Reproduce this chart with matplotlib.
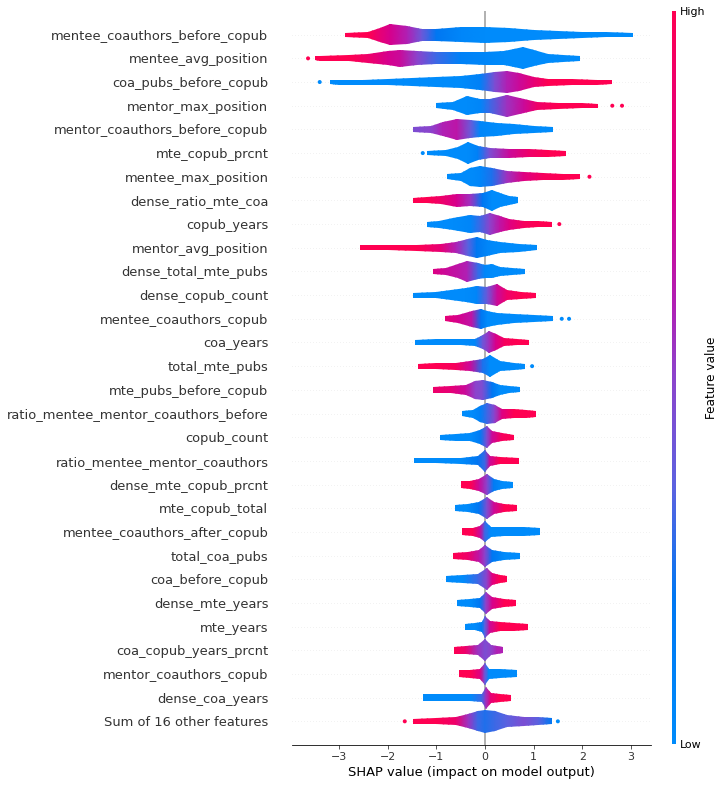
import matplotlib
matplotlib.use("Agg")
import matplotlib.pyplot as plt
import numpy as np
from matplotlib.colors import LinearSegmentedColormap
from matplotlib.patches import Polygon
import matplotlib as mpl

# feature names, top to bottom
features = [
    "mentee_coauthors_before_copub", "mentee_avg_position", "coa_pubs_before_copub",
    "mentor_max_position", "mentor_coauthors_before_copub", "mte_copub_prcnt",
    "mentee_max_position", "dense_ratio_mte_coa", "copub_years", "mentor_avg_position",
    "dense_total_mte_pubs", "dense_copub_count", "mentee_coauthors_copub", "coa_years",
    "total_mte_pubs", "mte_pubs_before_copub", "ratio_mentee_mentor_coauthors_before",
    "copub_count", "ratio_mentee_mentor_coauthors", "dense_mte_copub_prcnt",
    "mte_copub_total", "mentee_coauthors_after_copub", "total_coa_pubs",
    "coa_before_copub", "dense_mte_years", "mte_years", "coa_copub_years_prcnt",
    "mentor_coauthors_copub", "dense_coa_years", "Sum of 16 other features",
]

# per feature: SHAP knots, swarm thickness (px-ish, half height), mean feature value (0 low .. 1 high)
shap_x = [
    [-2.88, -2.4, -2.15, -1.95, -1.6, -1.3, -1.0, -0.5, 0.0, 0.5, 1.0, 1.5, 2.0, 2.5, 3.05],
    [-3.5, -3.4, -2.8, -2.4, -2.0, -1.75, -1.4, -1.0, -0.5, 0.0, 0.4, 0.6, 0.78, 1.0, 1.3, 1.6, 1.95],
    [-3.19, -3.0, -2.5, -2.0, -1.5, -1.0, -0.5, -0.1, 0.2, 0.45, 0.7, 1.0, 1.3, 1.8, 2.3, 2.62],
    [-1.0, -0.65, -0.37, -0.1, 0.1, 0.45, 0.8, 1.07, 1.5, 2.0, 2.33],
    [-1.48, -1.1, -0.87, -0.58, -0.3, -0.1, 0.25, 0.6, 1.0, 1.4],
    [-1.2, -0.8, -0.55, -0.35, -0.15, 0.1, 0.5, 0.9, 1.3, 1.67],
    [-0.79, -0.5, -0.3, -0.1, 0.15, 0.45, 0.8, 1.2, 1.6, 1.95],
    [-1.48, -1.2, -0.9, -0.58, -0.3, -0.05, 0.14, 0.3, 0.5, 0.68],
    [-1.2, -0.95, -0.65, -0.3, -0.1, 0.1, 0.3, 0.5, 0.8, 1.1, 1.37],
    [-2.57, -2.0, -1.4, -0.9, -0.6, -0.35, -0.17, 0.05, 0.3, 0.7, 1.07],
    [-1.07, -0.8, -0.55, -0.37, -0.15, 0.0, 0.14, 0.3, 0.55, 0.82],
    [-1.48, -1.0, -0.7, -0.4, -0.17, 0.05, 0.25, 0.45, 0.75, 1.05],
    [-0.82, -0.55, -0.27, -0.08, 0.05, 0.25, 0.6, 1.0, 1.4],
    [-1.44, -1.0, -0.5, -0.2, -0.05, 0.08, 0.22, 0.4, 0.65, 0.9],
    [-1.38, -1.0, -0.6, -0.3, -0.05, 0.1, 0.3, 0.6, 0.82],
    [-1.07, -0.7, -0.4, -0.2, -0.05, 0.15, 0.3, 0.5, 0.72],
    [-0.47, -0.25, -0.1, 0.04, 0.2, 0.35, 0.6, 0.85, 1.05],
    [-0.93, -0.6, -0.3, -0.1, 0.04, 0.15, 0.35, 0.6],
    [-1.46, -1.0, -0.5, -0.15, 0.0, 0.1, 0.3, 0.7],
    [-0.5, -0.3, -0.12, 0.04, 0.18, 0.35, 0.58],
    [-0.62, -0.35, -0.12, 0.04, 0.18, 0.4, 0.66],
    [-0.47, -0.25, -0.1, 0.0, 0.12, 0.4, 0.8, 1.13],
    [-0.65, -0.35, -0.12, 0.0, 0.15, 0.4, 0.72],
    [-0.8, -0.45, -0.15, 0.04, 0.15, 0.3, 0.45],
    [-0.58, -0.3, -0.1, 0.02, 0.15, 0.4, 0.64],
    [-0.41, -0.2, -0.07, 0.0, 0.1, 0.3, 0.6, 0.88],
    [-0.64, -0.4, -0.15, 0.0, 0.12, 0.25, 0.37],
    [-0.53, -0.3, -0.1, 0.0, 0.08, 0.3, 0.66],
    [-1.28, -0.8, -0.3, -0.07, 0.02, 0.12, 0.3, 0.53],
    [-1.48, -1.0, -0.6, -0.35, -0.15, 0.0, 0.2, 0.45, 0.8, 1.1, 1.37],
]
thickness = [
    [2, 3, 7, 10.5, 9, 6, 6, 7.5, 8, 7, 5, 4, 3, 2.5, 2],
    [2, 2.5, 3, 4.5, 7, 8.3, 7, 6, 6, 6.5, 7, 9, 11, 8, 4.5, 3.5, 2.5],
    [2, 2.5, 2.5, 3, 4, 5, 6, 8, 10, 10.7, 9, 5, 3.5, 3, 2.5, 2],
    [2.5, 4, 9.7, 7, 7, 11, 7, 4, 3, 2.5, 2],
    [2.5, 3.5, 7, 10.5, 9, 8, 6.5, 5, 3.5, 2.5],
    [2, 3, 6, 11, 7, 5, 4.5, 4, 3.5, 2.5],
    [2.5, 4, 9, 10.5, 9, 6, 4.5, 3.5, 3, 2.5],
    [2.5, 3, 4, 6.7, 6, 7, 10.7, 7, 4.5, 3],
    [2.5, 3.5, 6, 9, 8, 10.7, 8, 5.5, 3.5, 3, 2.5],
    [2.5, 2.5, 3, 4, 5.5, 8.5, 10.5, 8, 5.5, 4, 2.5],
    [2.5, 3.5, 7, 10.8, 8, 6.5, 7, 4.5, 3.5, 2.5],
    [2.5, 3, 5, 7, 9, 8.5, 11, 5, 3.5, 2.5],
    [2.5, 4, 8, 10, 8, 6, 4.5, 3.5, 2.5],
    [2.5, 3, 3, 3.5, 7, 11, 8, 4, 3, 2.5],
    [2.5, 3, 3.5, 5, 7, 11, 5, 3.5, 2.5],
    [3, 3.5, 5, 9, 10.3, 8, 5, 3.5, 2.5],
    [2.5, 4, 8, 10.8, 9, 5, 4.5, 4, 3],
    [2.5, 3.5, 4, 7, 11, 6, 4, 2.5],
    [2.5, 2.5, 3, 4.5, 10.8, 5, 3.5, 3],
    [3.5, 4, 6, 10.8, 6, 4, 3],
    [3, 4, 6, 10.8, 6, 4, 3],
    [3.5, 4, 6, 10.5, 5, 4.5, 4.5, 3.5],
    [3, 4, 6, 11, 6, 4, 3],
    [3, 4, 5, 10.8, 6, 4, 3],
    [3, 4, 5, 10.8, 6, 4, 3],
    [3, 3.5, 5, 11, 6, 4.5, 4, 3],
    [3.5, 4, 5, 11, 5, 4, 3],
    [3.5, 4, 5, 10.7, 5, 4.5, 3.5],
    [3.5, 3.5, 3.5, 4, 11, 5, 4, 3],
    [2.5, 3, 4, 7, 10, 11.7, 10, 6, 4.5, 4, 3],
]
feat_val = [
    [1, 1, 0.85, 0.75, 0.6, 0.4, 0.2, 0.05, 0, 0, 0, 0, 0, 0, 0],
    [1, 1, 1, 0.9, 0.75, 0.7, 0.5, 0.3, 0.1, 0.05, 0, 0, 0, 0, 0, 0, 0],
    [0, 0, 0, 0, 0, 0, 0, 0.1, 0.45, 0.6, 0.7, 0.85, 1, 1, 1, 1],
    [0, 0, 0, 0.05, 0.3, 0.55, 0.7, 0.9, 1, 1, 1],
    [0.45, 0.5, 0.6, 0.65, 0.4, 0.05, 0, 0, 0, 0],
    [0, 0, 0, 0, 0.1, 0.45, 0.7, 0.9, 1, 1],
    [0, 0, 0, 0.05, 0.25, 0.55, 0.8, 0.95, 1, 1],
    [1, 1, 0.9, 0.75, 0.55, 0.2, 0, 0, 0, 0],
    [0, 0, 0, 0.05, 0.3, 0.5, 0.65, 0.8, 0.95, 1, 1],
    [1, 1, 1, 0.85, 0.6, 0.35, 0.2, 0.05, 0, 0, 0],
    [0.8, 0.7, 0.65, 0.6, 0.3, 0.05, 0, 0, 0, 0],
    [0, 0, 0, 0, 0.05, 0.4, 0.7, 0.9, 1, 1],
    [0.85, 0.75, 0.65, 0.2, 0, 0, 0, 0, 0],
    [0, 0, 0, 0.05, 0.4, 0.55, 0.75, 0.95, 1, 1],
    [1, 1, 0.95, 0.7, 0.25, 0, 0, 0, 0],
    [0.9, 0.85, 0.7, 0.5, 0.45, 0.2, 0, 0, 0],
    [0, 0, 0.1, 0.3, 0.5, 0.8, 1, 1, 1],
    [0, 0, 0, 0.15, 0.45, 0.7, 0.95, 1],
    [0, 0, 0, 0.2, 0.3, 0.7, 1, 1],
    [1, 1, 0.7, 0.5, 0.15, 0, 0],
    [0, 0, 0.2, 0.45, 0.7, 1, 1],
    [1, 1, 0.7, 0.3, 0, 0, 0, 0],
    [1, 0.9, 0.65, 0.5, 0.2, 0, 0],
    [0, 0, 0.3, 0.5, 0.8, 1, 1],
    [0, 0, 0.2, 0.5, 0.75, 1, 1],
    [0, 0, 0.15, 0.35, 0.7, 1, 1, 1],
    [1, 0.9, 0.55, 0.45, 0.5, 0.6, 0.6],
    [1, 1, 0.8, 0.4, 0, 0, 0],
    [0, 0, 0, 0.3, 0.55, 0.85, 1, 1],
    [1, 1, 0.9, 0.55, 0.3, 0.25, 0.3, 0.35, 0.45, 0.35, 0.2],
]

# lone dots: (feature index, shap value, feature value)
outlier_feat = [1, 2, 3, 3, 5, 6, 8, 12, 12, 14, 29, 29]
outlier_x = [-3.64, -3.4, 2.62, 2.82, -1.28, 2.15, 1.53, 1.58, 1.73, 0.97, -1.65, 1.5]
outlier_val = [1, 0, 1, 1, 0, 1, 1, 0, 0, 0, 1, 0]

red_blue = LinearSegmentedColormap.from_list(
    "red_blue",
    [(0.0, "#008bfb"), (0.2, "#0077f2"), (0.35, "#5c62e0"), (0.5, "#8c44cc"),
     (0.6, "#b020b4"), (0.75, "#d6008e"), (1.0, "#ff0052")])

fig = plt.figure(figsize=(725 / 72, 786 / 72), dpi=72)
ax = fig.add_axes([292 / 725, 1 - 745 / 786, 358.7 / 725, 734 / 786])

n = len(features)
row_px = 734 / (n + 1)
for i, name in enumerate(features):
    y = n - 1 - i
    ax.axhline(y=y, color="#cccccc", lw=0.5, dashes=(1, 5), zorder=-1)
    xs = np.array(shap_x[i])
    hw = np.array(thickness[i]) / row_px
    cv = np.array(feat_val[i])
    verts = list(zip(xs, y + hw)) + list(zip(xs[::-1], (y - hw)[::-1]))
    poly = Polygon(verts, closed=True, facecolor="none", edgecolor="none")
    ax.add_patch(poly)
    X = np.vstack([xs, xs])
    Y = np.vstack([np.full_like(xs, y - 0.5), np.full_like(xs, y + 0.5)])
    C = np.vstack([cv, cv])
    mesh = ax.pcolormesh(X, Y, C, cmap=red_blue, vmin=0, vmax=1,
                         shading="gouraud", zorder=3, rasterized=True)
    mesh.set_clip_path(poly)

oy = [n - 1 - k for k in outlier_feat]
ax.scatter(outlier_x, oy, c=outlier_val, cmap=red_blue, vmin=0, vmax=1,
           s=16, linewidth=0, zorder=3)

ax.axvline(x=0, color="#999999", zorder=-1)
ax.set_xlim(-3.97, 3.41)
ax.set_ylim(-1, n)
ax.set_yticks(range(n))
ax.set_yticklabels(features[::-1], fontsize=13)
ax.tick_params('y', length=20, width=0.5, which='major')
ax.yaxis.set_ticks_position('none')
ax.xaxis.set_ticks_position('bottom')
ax.tick_params(color="#333333", labelcolor="#333333")
ax.tick_params('x', labelsize=11)
ax.set_xticks([-3, -2, -1, 0, 1, 2, 3])
for s in ['right', 'top', 'left']:
    ax.spines[s].set_visible(False)
ax.set_xlabel("SHAP value (impact on model output)", fontsize=13)

cax = fig.add_axes([672 / 725, 1 - 744 / 786, 4 / 725, 733 / 786])
cb = mpl.colorbar.ColorbarBase(cax, cmap=red_blue, norm=mpl.colors.Normalize(0, 1),
                               ticks=[0, 1])
cb.set_ticklabels(["Low", "High"])
cb.ax.tick_params(labelsize=11, length=0)
cb.set_label("Feature value", size=12, labelpad=0)
cb.outline.set_visible(False)

fig.savefig("out.png", dpi=72)
